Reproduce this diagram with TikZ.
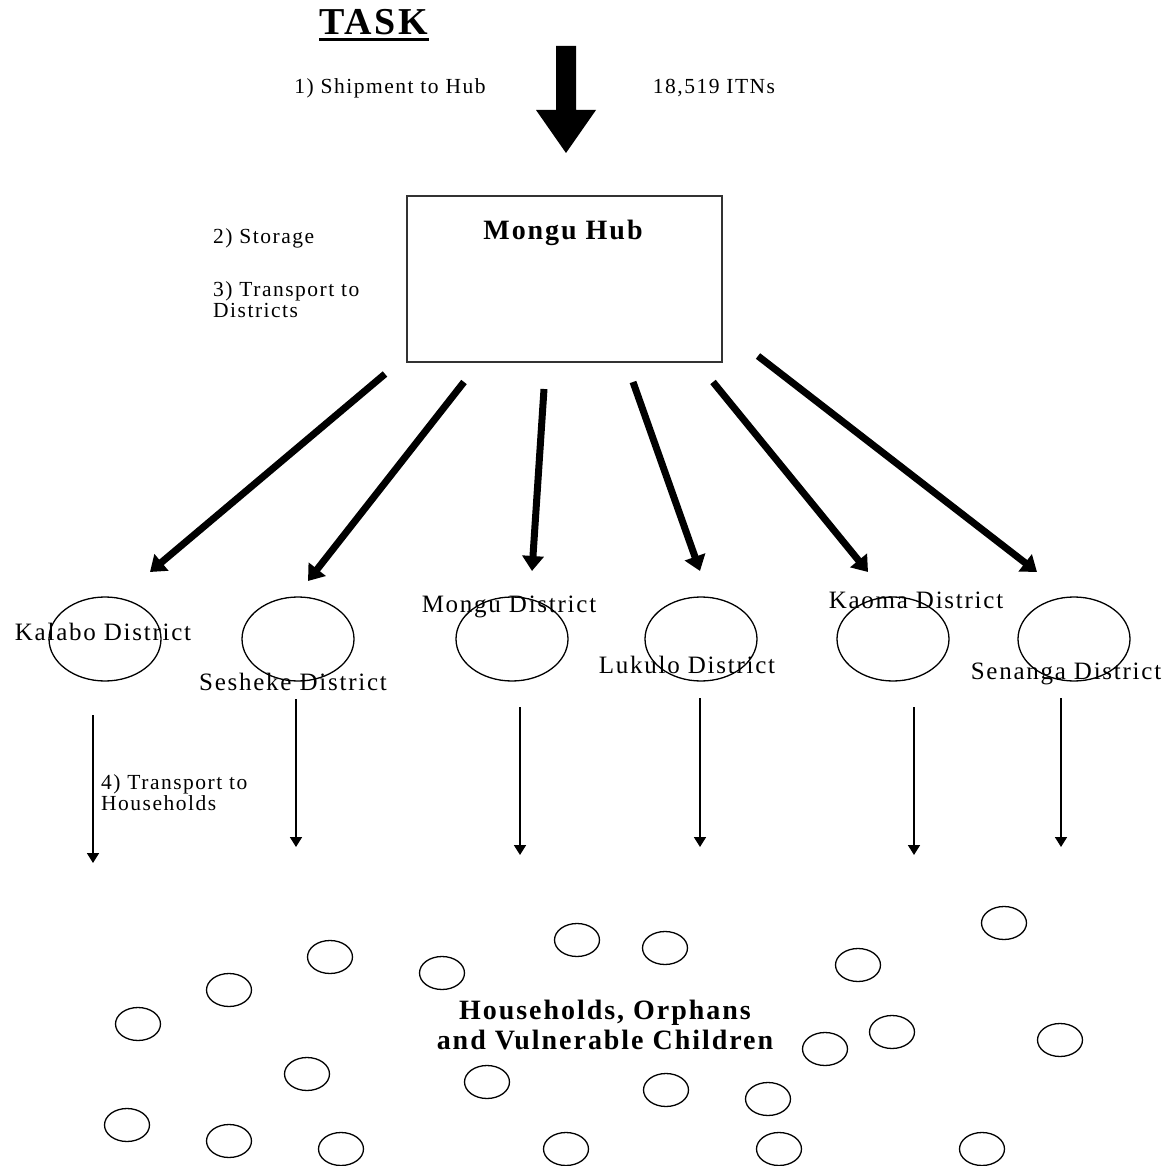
\documentclass[tikz,border=0pt]{standalone}
\usepackage{fontspec}
\setmainfont{Liberation Serif}[LetterSpace=7]
\usetikzlibrary{arrows.meta,shapes.geometric,calc}

\begin{document}
\begin{tikzpicture}[x=1pt,y=-1pt,
                        bigarrow/.style={line width=7pt,-{Triangle[length=15pt,width=21pt]}},
                        thinarrow/.style={line width=1.7pt,-{Triangle[length=10pt,width=12pt]}},
                        district/.style={draw,ellipse,line width=1.3pt,minimum width=112pt,minimum height=84pt,inner sep=0pt},
                        house/.style={draw,ellipse,line width=1.3pt,minimum width=45pt,minimum height=33pt,inner sep=0pt},
                        steplabel/.style={font=\fontsize{21.5}{21}\selectfont,inner sep=0pt,align=left,anchor=west},
                        dlabel/.style={font=\fontsize{25}{27}\selectfont,inner sep=0pt}
                        ]
                        \useasboundingbox (0,0) rectangle (1173,1166);
                        % title
                        \node[font=\bfseries\fontsize{38}{40}\selectfont,inner sep=0pt] (task) at (374,22) {TASK};
                        \draw[line width=3pt] ($(task.base west)+(0,5)$) -- ($(task.base east)+(0,5)$);
                        % shipment arrow
                        \coordinate (shiptip) at (566,153);
                        \fill (556,46) -- (576,46) -- (576,110) -- (596,110) -- (shiptip) -- (536,110) -- (556,110) -- cycle;
                        \node[steplabel,anchor=center] (ship) at (390,88) {1) Shipment to Hub};
                        \node[steplabel,anchor=center] (itns) at (714,88) {18,519 ITNs};

                        % hub
                        \node[draw,black!80,line width=1.3pt,minimum width=315pt,minimum height=166pt,inner sep=0pt] (hub) at (564.5,279) {};
                        \node[font=\bfseries\fontsize{28}{30}\selectfont,inner sep=0pt] (hubname) at (563,233) {Mongu Hub};
                        \node[steplabel] (storage) at (213,238) {2) Storage};
                        \node[steplabel] (todist) at (213,299.5) {3) Transport to\\Districts};

                        % districts
                        \foreach \n/\x/\sx/\sy/\ex/\ey/\lx/\ly/\name in {
                            1/105/385/374/150/572/103/632/Kalabo,
                            2/298/464/382/308/581/293/682/Sesheke,
                            3/512/544/389/532/571/509/607/Mongu,
                            4/701/633/382/700/571/687/665/Lukulo,
                            5/893/713/382/868/572/916/600/Kaoma,
                            6/1074/758/356/1037/572/1066/674/Senanga}
                        {
                            \node[district] (d\n) at (\x,639) {};
                            \node[dlabel] (dl\n) at (\lx,\ly) {\name\ District};
                            \coordinate (hs\n) at (\sx,\sy);
                            \coordinate (dt\n) at (\ex,\ey);
                            \draw[bigarrow] (hs\n) -- (dt\n);
                        }

                        % transport to households
                        \foreach \n/\x/\ya/\yb in {1/93/715/863,2/296/699/847,3/520/707/855,4/700/698/847,5/914/707/855,6/1061/698/847}
                        {
                            \coordinate (ht\n) at (\x,\ya);
                            \coordinate (hb\n) at (\x,\yb);
                            \draw[thinarrow] (ht\n) -- (hb\n);
                        }
                        \node[steplabel] (tohouse) at (101,792.5) {4) Transport to\\Households};

                        % households
                        \foreach \x/\y [count=\i] in {1004/923,577/940,665/948,330/957,442/973,858/965,229/990,
                            138/1024,892/1032,825/1049,1060/1040,307/1074,487/1082,666/1090,768/1099,
                            127/1125,229/1141,341/1149,566/1149,779/1149,982/1149}
                            \node[house] (h\i) at (\x,\y) {};
                        \node[font=\bfseries\fontsize{28}{30}\selectfont,align=center,inner sep=0pt] (hh) at (605,1025) {Households, Orphans\\and Vulnerable Children};
                \end{tikzpicture}
\end{document}
